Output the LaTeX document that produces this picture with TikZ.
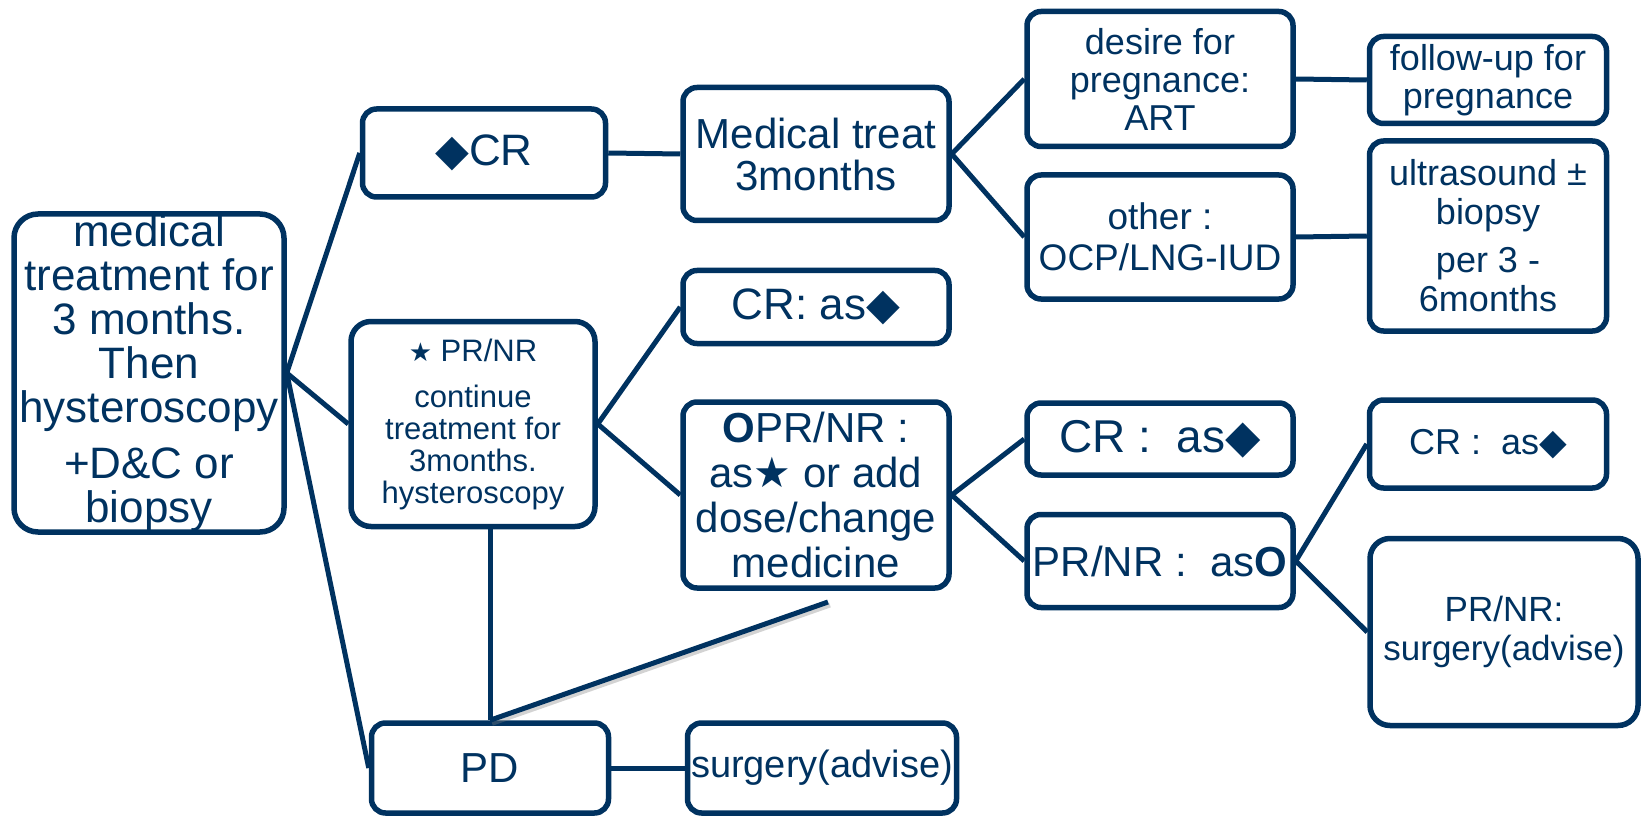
\documentclass[tikz,border=0pt]{standalone}
\usepackage{fontspec}
\setmainfont{Liberation Sans}
\newfontfamily\symfont{DejaVu Sans}
\definecolor{navy}{RGB}{0,50,96}
\newcommand{\diam}{{\symfont ◆}}
\newcommand{\starsym}{{\symfont ★}}
\newcommand{\ringsym}{\textbf{O}}
\newcommand{\setfs}[2]{\fontsize{#1pt}{#2pt}\selectfont}

\begin{document}
\begin{tikzpicture}[x=1pt,y=-1pt,
    box/.style={draw=navy, line width=5.5pt, rounded corners=14pt, text=navy, align=center, inner sep=0pt},
    link/.style={draw=navy, line width=5pt}]
	\useasboundingbox (0,0) rectangle (1643,818);

	% first column
	\node (trt) [box, minimum width=270pt, minimum height=318pt, rounded corners=24pt, font=\setfs{44}{44}] at (149,373) {medical\\treatment for\\3 months.\\Then\\hysteroscopy\\[12pt]+D\&C or\\biopsy};

	% second column
	\node (cr) [box, minimum width=243pt, minimum height=88pt, font=\setfs{44}{44}] at (484,153) {\diam CR};
	\node (pr) [box, minimum width=244pt, minimum height=205pt, rounded corners=20pt, font=\setfs{31}{32}] at (473,424) {{\setfs{26}{26}\starsym} PR/NR\\[14pt]continue\\treatment for\\3months.\\hysteroscopy};
	\node (pd) [box, minimum width=237pt, minimum height=90pt, font=\setfs{42}{42}] at (490,768) {PD};

	% third column
	\node (med) [box, minimum width=266pt, minimum height=133pt, font=\setfs{42}{42}] at (816,154) {Medical treat\\3months};
	\node (crtwo) [box, minimum width=266pt, minimum height=73pt, font=\setfs{44}{44}] at (816,307) {CR: as\diam};
	\node (ring) [box, minimum width=266pt, minimum height=186pt, font=\setfs{42}{45}] at (816,495) {\ringsym PR/NR :\\as\starsym{} or add\\dose/change\\medicine};
	\node (surgone) [box, minimum width=269pt, minimum height=90pt, font=\setfs{38}{38}] at (822,768) {surgery(advise)};

	% fourth column
	\node (wish) [box, minimum width=266pt, minimum height=135pt, font=\setfs{36}{38}] at (1160,79) {desire for\\pregnance:\\ART};
	\node (other) [box, minimum width=266pt, minimum height=124pt, font=\setfs{37}{41}] at (1160,237) {other :\\OCP/LNG-IUD};
	\node (crthree) [box, minimum width=266pt, minimum height=72pt, font=\setfs{46}{46}] at (1160,439) {CR\ :\ \ as\diam};
	\node (ringas) [box, minimum width=266pt, minimum height=93pt, font=\setfs{42}{42}] at (1160,561) {PR/NR\ :\ \ as\ringsym};

	% fifth column
	\node (follow) [box, minimum width=237pt, minimum height=87pt, font=\setfs{36}{38}] at (1488,80) {follow-up for\\pregnance};
	\node (ultra) [box, minimum width=237pt, minimum height=190pt, font=\setfs{36}{39}] at (1488,236) {ultrasound ±\\biopsy\\[9pt]per 3 -\\6months};
	\node (crfour) [box, minimum width=237pt, minimum height=88pt, font=\setfs{36}{36}] at (1488,444) {CR\ :\ \ as\diam};
	\node (surgtwo) [box, minimum width=268pt, minimum height=187pt, rounded corners=20pt, font=\setfs{35}{39}] at (1504,632) {PR/NR:\\surgery(advise)};

	\coordinate (loose) at (828,602);

	% connectors
	\draw[link] (trt.east)--(cr.west); \draw[link] (trt.east)--(pr.west); \draw[link] (trt.east)--(pd.west);
	\draw[link] (cr.east)--(med.west);
	\draw[link] (med.east)--(wish.west); \draw[link] (med.east)--(other.west);
	\draw[link] (wish.east)--(follow.west); \draw[link] (other.east)--(ultra.west);
	\draw[link] (pr.east)--(crtwo.west); \draw[link] (pr.east)--(ring.west);
	\draw[link] (ring.east)--(crthree.west); \draw[link] (ring.east)--(ringas.west);
	\draw[link] (ringas.east)--(crfour.west); \draw[link] (ringas.east)--(surgtwo.west);
	\draw[link] (pd.east)--(surgone.west);
	\draw[link] (pr.south -| pd.north)--(pd.north);
	\draw[line width=5pt, gray, opacity=0.35] ([shift={(2,3)}]loose)--([shift={(2,3)}]pd.north);
	\draw[link] (loose)--(pd.north);
\end{tikzpicture}
\end{document}
